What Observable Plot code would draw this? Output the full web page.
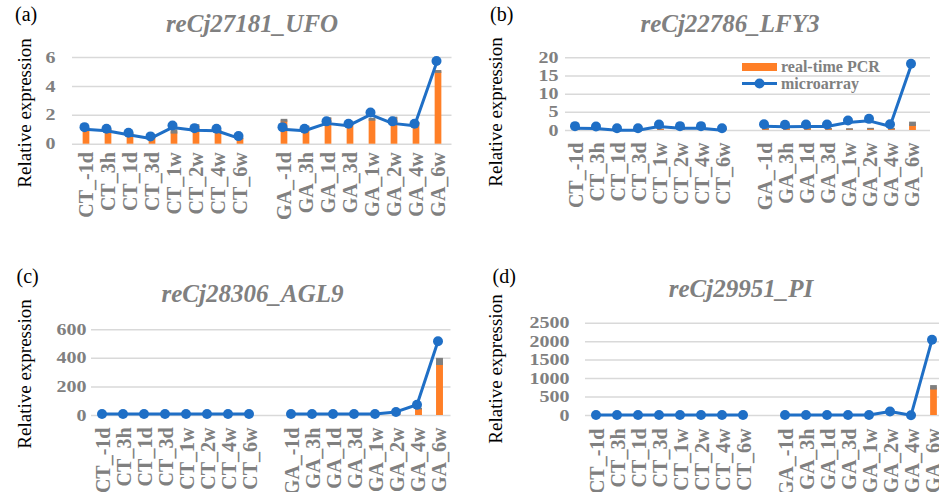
<!DOCTYPE html>
<html><head><meta charset="utf-8">
<script src="https://cdn.jsdelivr.net/npm/d3@7"></script>
<script src="https://cdn.jsdelivr.net/npm/@observablehq/plot@0.6"></script>
<style>
body{margin:0;background:#fff;}
#root{position:relative;width:939px;height:492px;overflow:hidden;font-family:"Liberation Serif","Times New Roman",serif;}
.panel{position:absolute;}
.panel svg{max-width:none !important;}
#overlay{position:absolute;left:0;top:0;}
</style></head><body><div id="root"></div>
<script>
// ---- categories ----
const ctLabels = ["CT_-1d","CT_3h","CT_1d","CT_3d","CT_1w","CT_2w","CT_4w","CT_6w"];
const gaLabels = ["GA_-1d","GA_3h","GA_1d","GA_3d","GA_1w","GA_2w","GA_4w","GA_6w"];
const gapLabel = "gap";
const titles = ["reCj27181_UFO","reCj22786_LFY3","reCj28306_AGL9","reCj29951_PI"];
const letters = ["(a)","(b)","(c)","(d)"];
const seriesNames = ["real-time PCR","microarray"];

// ---- (a) UFO ----
const ufoPcr   = [0.95,1.0,0.72,0.45,0.85,1.25,0.9,0.37,  1.62,1.2,1.78,1.5,1.69,1.8,1.45,5.0];
const ufoErr   = [0.05,0.05,0.05,0.05,0.15,0.1,0.05,0.05, 0.1,0.05,0.05,0.05,0.1,0.07,0.05,0.1];
const ufoArray = [1.18,1.07,0.79,0.54,1.30,1.11,1.07,0.56, 1.18,1.07,1.58,1.42,2.19,1.58,1.42,5.76];
const ufoTicks = [0,2,4,6];
// ---- (b) LFY3 ----
const lfyPcr   = [0.3,0.3,0.2,0.2,0.3,0.3,0.3,0.2, 0.4,0.4,0.4,0.4,0.3,0.4,0.4,1.7];
const lfyErr   = [0.1,0.1,0.1,0.1,0.1,0.1,0.1,0.1, 0.2,0.2,0.2,0.2,0.2,0.2,0.2,0.6];
const lfyArray = [1.2,1.1,0.64,0.64,1.65,1.2,1.2,0.64, 1.74,1.56,1.65,1.65,2.75,3.2,1.74,18.35];
const lfyTicks = [0,5,10,15,20];
// ---- (c) AGL9 ----
const aglPcr   = [1,1,1,1,1,1,1,1, 1,1,1,1,1,3,45,375];
const aglErr   = [0.2,0.2,0.2,0.2,0.2,0.2,0.2,0.2, 0.2,0.2,0.2,0.2,0.2,1,6,25];
const aglArray = [10,10,10,10,10,10,10,10, 10,10,10,10,10,25,75,520];
const aglTicks = [0,200,400,600];
// ---- (d) PI ----
const piPcr    = [1,1,1,1,1,1,1,20, 1,1,1,1,1,5,20,750];
const piErr    = [0.5,0.5,0.5,0.5,0.5,0.5,0.5,3, 0.5,0.5,0.5,0.5,0.5,2,4,60];
const piArray  = [15,15,15,15,15,15,15,15, 15,15,15,15,15,110,5,2050];
const piTicks  = [0,500,1000,1500,2000,2500];

const ORANGE = "#ff7f27", BLUE = "#1f6fc6", GRAY = "#808080", GRID = "#d9d9d9";
const FONT = "'Liberation Serif', 'Times New Roman', serif";

const allCats = [...ctLabels, gapLabel, ...gaLabels];
const tickCats = [...ctLabels, ...gaLabels];

function rows(values, errs) {
  return tickCats.map((c, i) => ({cat: c, group: i < 8 ? "CT" : "GA", value: values[i], err: errs ? errs[i] : 0}));
}

const panels = [
  {left:0, top:0, width:470, height:245, ml:72, mr:18.5, xr:[72.5,451.5], yd:[0,6], yr:[143.7,57], pad:17, xpad:8, ticks:ufoTicks, pcr:ufoPcr, err:ufoErr, arr:ufoArray, ldy:2},
  {left:470, top:0, width:469, height:245, ml:95, mr:9, xr:[94.4,454], yd:[0,20], yr:[130,57.3], pad:7, xpad:12, ticks:lfyTicks, pcr:lfyPcr, err:lfyErr, arr:lfyArray, ldy:2},
  {left:0, top:250, width:470, height:242, ml:91, mr:19.5, xr:[92.2,450.5], yd:[0,600], yr:[165,79.3], pad:5, xpad:12, ticks:aglTicks, pcr:aglPcr, err:aglErr, arr:aglArray, ldy:0},
  {left:470, top:250, width:480, height:242, ml:115, mr:4, xr:[114.4,475.6], yd:[0,2500], yr:[165,72.7], pad:16, xpad:13, ticks:piTicks, pcr:piPcr, err:piErr, arr:piArray, ldy:0}
];

const root = document.getElementById("root");

panels.forEach((p) => {
  const bw = (p.xr[1] - p.xr[0]) / allCats.length;
  const inset = (bw - 7) / 2;
  const pcrRows = rows(p.pcr, p.err);
  const arrRows = rows(p.arr);
  const chart = Plot.plot({
    width: p.width, height: p.height,
    marginLeft: p.ml, marginRight: p.mr, marginTop: p.yr[1], marginBottom: p.height - p.yr[0],
    style: {fontFamily: FONT, background: "transparent", overflow: "visible", maxWidth: "none"},
    x: {type: "band", domain: allCats, range: p.xr, padding: 0},
    y: {domain: p.yd},
    marks: [
      Plot.gridY(p.ticks, {stroke: GRID, strokeOpacity: 1, strokeWidth: 1.5}),
      Plot.barY(pcrRows, {x: "cat", y: "value", fill: ORANGE, insetLeft: inset, insetRight: inset}),
      Plot.barY(pcrRows, {x: "cat", y1: d => Math.max(0, d.value - d.err), y2: d => d.value + d.err, fill: "#7f7f7f", insetLeft: inset, insetRight: inset}),
      Plot.line(arrRows, {x: "cat", y: "value", z: "group", stroke: BLUE, strokeWidth: 3, dx: -2, dy: p.ldy}),
      Plot.dot(arrRows, {x: "cat", y: "value", r: 5, fill: BLUE, stroke: null, dx: -2}),
      Plot.axisY(p.ticks, {tickSize: 0, tickPadding: p.pad, tickFormat: d3.format("d"), fontSize: 20, fontWeight: "bold", fontFamily: FONT, fill: GRAY, label: null}),
      Plot.axisX(tickCats, {tickSize: 0, tickRotate: -90, tickPadding: p.xpad, fontSize: 20, fontWeight: "bold", fontFamily: FONT, fill: GRAY, label: null})
    ]
  });
  // the reference's tick numbers are slightly flattened
  chart.querySelectorAll('[aria-label="y-axis tick label"] text').forEach(t => {
    const tr = t.getAttribute("transform") || "";
    t.setAttribute("transform", tr + " scale(1,0.8)");
  });
  const div = document.createElement("div");
  div.className = "panel";
  div.style.left = p.left + "px";
  div.style.top = p.top + "px";
  div.style.width = p.width + "px";
  div.appendChild(chart);
  root.appendChild(div);
});

// ---- overlay text: letters, titles, y labels, legend ----
const ns = "http://www.w3.org/2000/svg";
const svg = document.createElementNS(ns, "svg");
svg.setAttribute("id", "overlay");
svg.setAttribute("width", 939);
svg.setAttribute("height", 492);
svg.setAttribute("font-family", "Liberation Serif, Times New Roman, serif");
root.appendChild(svg);
function txt(x, y, s, attrs) {
  const t = document.createElementNS(ns, "text");
  t.setAttribute("x", x); t.setAttribute("y", y);
  for (const k in attrs) t.setAttribute(k, attrs[k]);
  t.textContent = s;
  svg.appendChild(t);
  return t;
}
const letterPos = [[15,21],[490,21],[16.5,283],[492.5,283]];
const titlePos = [[252,31.5],[730,31.5],[252.5,301.5],[741,296.7]];
const ylabPos = [[31,113],[502,112],[31,374],[502,369]];
letters.forEach((s, i) => txt(letterPos[i][0], letterPos[i][1], s, {"font-size": 20, fill: "#000"}));
titles.forEach((s, i) => txt(titlePos[i][0], titlePos[i][1], s, {"font-size": 25, "font-weight": "bold", "font-style": "italic", fill: GRAY, "text-anchor": "middle"}));
ylabPos.forEach(([x, y]) => txt(x, y, "Relative expression", {"font-size": 19, fill: "#000", "text-anchor": "middle", transform: `rotate(-90 ${x} ${y})`}));

// legend in (b)
const r = document.createElementNS(ns, "rect");
r.setAttribute("x", 742); r.setAttribute("y", 63); r.setAttribute("width", 35); r.setAttribute("height", 8); r.setAttribute("fill", ORANGE);
svg.appendChild(r);
const ln = document.createElementNS(ns, "line");
ln.setAttribute("x1", 742); ln.setAttribute("x2", 777); ln.setAttribute("y1", 83.5); ln.setAttribute("y2", 83.5);
ln.setAttribute("stroke", BLUE); ln.setAttribute("stroke-width", 3);
svg.appendChild(ln);
const c = document.createElementNS(ns, "circle");
c.setAttribute("cx", 759.5); c.setAttribute("cy", 83.5); c.setAttribute("r", 5); c.setAttribute("fill", BLUE);
svg.appendChild(c);
txt(781, 72, seriesNames[0], {"font-size": 16, "font-weight": "bold", fill: GRAY});
txt(781, 88.5, seriesNames[1], {"font-size": 16, "font-weight": "bold", fill: GRAY});
</script>
</body></html>
